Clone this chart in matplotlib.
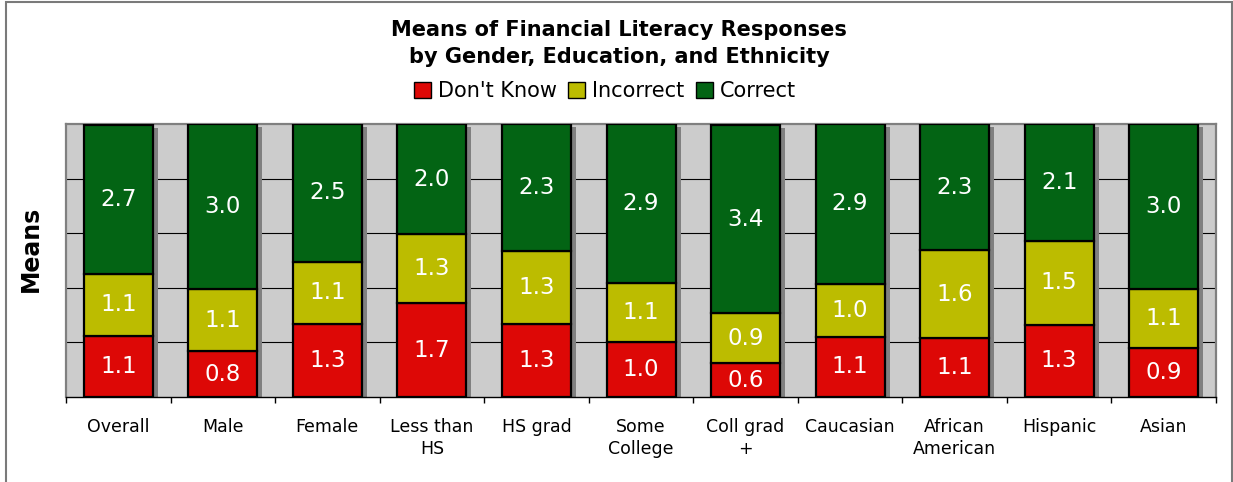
import matplotlib
matplotlib.use("Agg")
import matplotlib.pyplot as plt
from matplotlib.patches import Patch, Rectangle
import numpy as np

categories = ["Overall", "Male", "Female", "Less than\nHS", "HS grad", "Some\nCollege",
              "Coll grad\n+", "Caucasian", "African\nAmerican", "Hispanic", "Asian"]
dont_know = [1.12, 0.84, 1.34, 1.72, 1.34, 1.01, 0.62, 1.10, 1.08, 1.32, 0.90]
incorrect = [1.13, 1.14, 1.14, 1.26, 1.34, 1.08, 0.92, 0.97, 1.61, 1.54, 1.08]
correct = [2.74, 3.02, 2.52, 2.02, 2.32, 2.91, 3.44, 2.93, 2.31, 2.14, 3.02]
series_names = ["Don't Know", "Incorrect", "Correct"]
colors = ["#DD0806", "#BCBC00", "#036414"]

plt.rcParams['font.family'] = ['DejaVu Sans']

W, H = 1233, 482
fig = plt.figure(figsize=(W / 100, H / 100), dpi=100)

# figure frame
fig.patches.append(Rectangle((6 / W, -0.05), (1232 - 6) / W, 1 - 2 / H + 0.05,
                             transform=fig.transFigure, fill=False,
                             edgecolor="#7a7a7a", linewidth=1.5, zorder=0))

left, right, top, bottom = 66, 1216, 124, 397
ax = fig.add_axes([left / W, 1 - bottom / H, (right - left) / W, (bottom - top) / H])
ax.set_facecolor("#CCCCCC")

x = np.arange(len(categories))
bw = 0.66
series = [dont_know, incorrect, correct]
totals = np.sum(series, axis=0)

# shadows
ax.bar(x + 0.048, totals - 0.055, width=bw, color="#808080", zorder=2, linewidth=0)

bottoms = np.zeros(len(categories))
for vals, col in zip(series, colors):
    vals = np.array(vals)
    ax.bar(x, vals, width=bw, bottom=bottoms, color=col, edgecolor="black",
           linewidth=1.6, zorder=3)
    for xi, b, v in zip(x, bottoms, vals):
        ax.text(xi, b + v / 2, f"{v:.1f}", ha="center", va="center",
                color="white", fontsize=16.5, zorder=4)
    bottoms = bottoms + vals

ax.set_xlim(-0.5, len(categories) - 0.5)
ax.set_ylim(0, 5)
ax.set_yticks([1, 2, 3, 4])
ax.yaxis.grid(True, color="black", linewidth=0.8, zorder=1)
ax.set_axisbelow(True)
ax.tick_params(axis="y", left=False, labelleft=False)

ax.set_xticks(x)
ax.set_xticklabels(categories, fontsize=12.5, linespacing=1.3)
ax.tick_params(axis="x", which="major", length=0, pad=15)
ax.set_xticks(np.arange(-0.5, len(categories), 1), minor=True)
ax.tick_params(axis="x", which="minor", length=4, width=1, color="black", direction="out")

for s in ["left", "top", "right"]:
    ax.spines[s].set_color("#808080")
    ax.spines[s].set_linewidth(1.6)
ax.spines["bottom"].set_color("black")
ax.spines["bottom"].set_linewidth(1.0)

fig.text(619 / W, 1 - 43.5 / H, "Means of Financial Literacy Responses\nby Gender, Education, and Ethnicity",
         ha="center", va="center", fontsize=15, fontweight="bold", linespacing=1.4)

fig.text(31 / W, 1 - 249 / H, "Means", rotation=90, ha="center", va="center",
         fontsize=17, fontweight="bold")

handles = [Patch(facecolor=c, edgecolor="black", linewidth=1.0) for c in colors]
fig.legend(handles, series_names, loc="center", bbox_to_anchor=(605 / W, 1 - 91 / H),
           ncol=3, frameon=False, fontsize=15, handlelength=0.8, handleheight=0.8,
           handletextpad=0.35, columnspacing=0.55, borderpad=0, borderaxespad=0)

fig.savefig("out.png", dpi=100)
